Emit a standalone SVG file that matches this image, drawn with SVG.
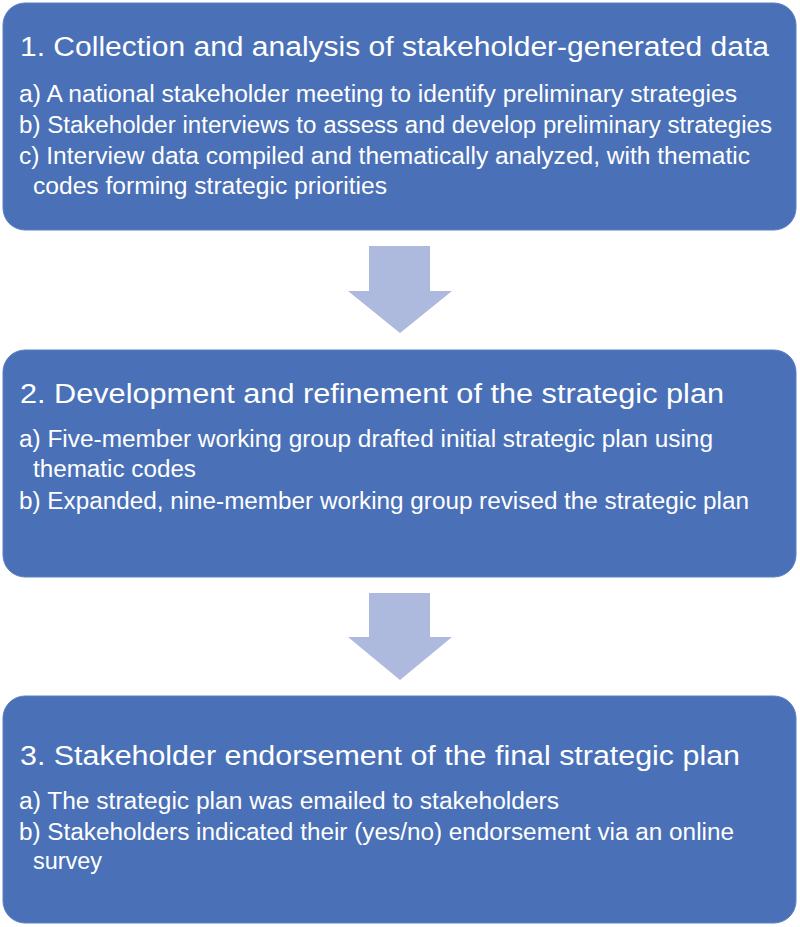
<svg xmlns="http://www.w3.org/2000/svg" width="800" height="927" viewBox="0 0 800 927">
<style>
.box{fill:#4a71b7;stroke:#5a80c2;stroke-width:1}
.arrow{fill:#adb9dd}
.title{font-family:"Liberation Sans",Arial,sans-serif;font-size:27px;fill:#ffffff}
.body{font-family:"Liberation Sans",Arial,sans-serif;font-size:23px;fill:#ffffff}
</style>
<rect width="800" height="927" fill="#ffffff"/>
<g id="connectors">
<polygon class="arrow" points="369,246 430,246 430,291 452,291 400,333 348,291 369,291"/>
<polygon class="arrow" points="369,593 430,593 430,637 452,637 400,680 348,637 369,637"/>
</g>
<g id="node1">
<rect class="box" x="3" y="3" width="793" height="227" rx="22" ry="22"/>
<text class="title" x="20" y="56" textLength="749" lengthAdjust="spacingAndGlyphs">1. Collection and analysis of stakeholder-generated data</text>
<text class="body" x="19" y="102" textLength="718" lengthAdjust="spacingAndGlyphs">a) A national stakeholder meeting to identify preliminary strategies</text>
<text class="body" x="19" y="133" textLength="753" lengthAdjust="spacingAndGlyphs">b) Stakeholder interviews to assess and develop preliminary strategies</text>
<text class="body" x="19" y="164" textLength="731" lengthAdjust="spacingAndGlyphs">c) Interview data compiled and thematically analyzed, with thematic</text>
<text class="body" x="33" y="194" textLength="354" lengthAdjust="spacingAndGlyphs">codes forming strategic priorities</text>
</g>
<g id="node2">
<rect class="box" x="3" y="350" width="793" height="227" rx="22" ry="22"/>
<text class="title" x="20" y="403" textLength="704" lengthAdjust="spacingAndGlyphs">2. Development and refinement of the strategic plan</text>
<text class="body" x="19" y="447" textLength="694" lengthAdjust="spacingAndGlyphs">a) Five-member working group drafted initial strategic plan using</text>
<text class="body" x="33" y="477" textLength="163" lengthAdjust="spacingAndGlyphs">thematic codes</text>
<text class="body" x="19" y="509" textLength="730" lengthAdjust="spacingAndGlyphs">b) Expanded, nine-member working group revised the strategic plan</text>
</g>
<g id="node3">
<rect class="box" x="3" y="696" width="793" height="227" rx="22" ry="22"/>
<text class="title" x="20" y="765" textLength="720" lengthAdjust="spacingAndGlyphs">3. Stakeholder endorsement of the final strategic plan</text>
<text class="body" x="19" y="809" textLength="540" lengthAdjust="spacingAndGlyphs">a) The strategic plan was emailed to stakeholders</text>
<text class="body" x="19" y="840" textLength="715" lengthAdjust="spacingAndGlyphs">b) Stakeholders indicated their (yes/no) endorsement via an online</text>
<text class="body" x="33" y="869" textLength="69" lengthAdjust="spacingAndGlyphs">survey</text>
</g>
</svg>
